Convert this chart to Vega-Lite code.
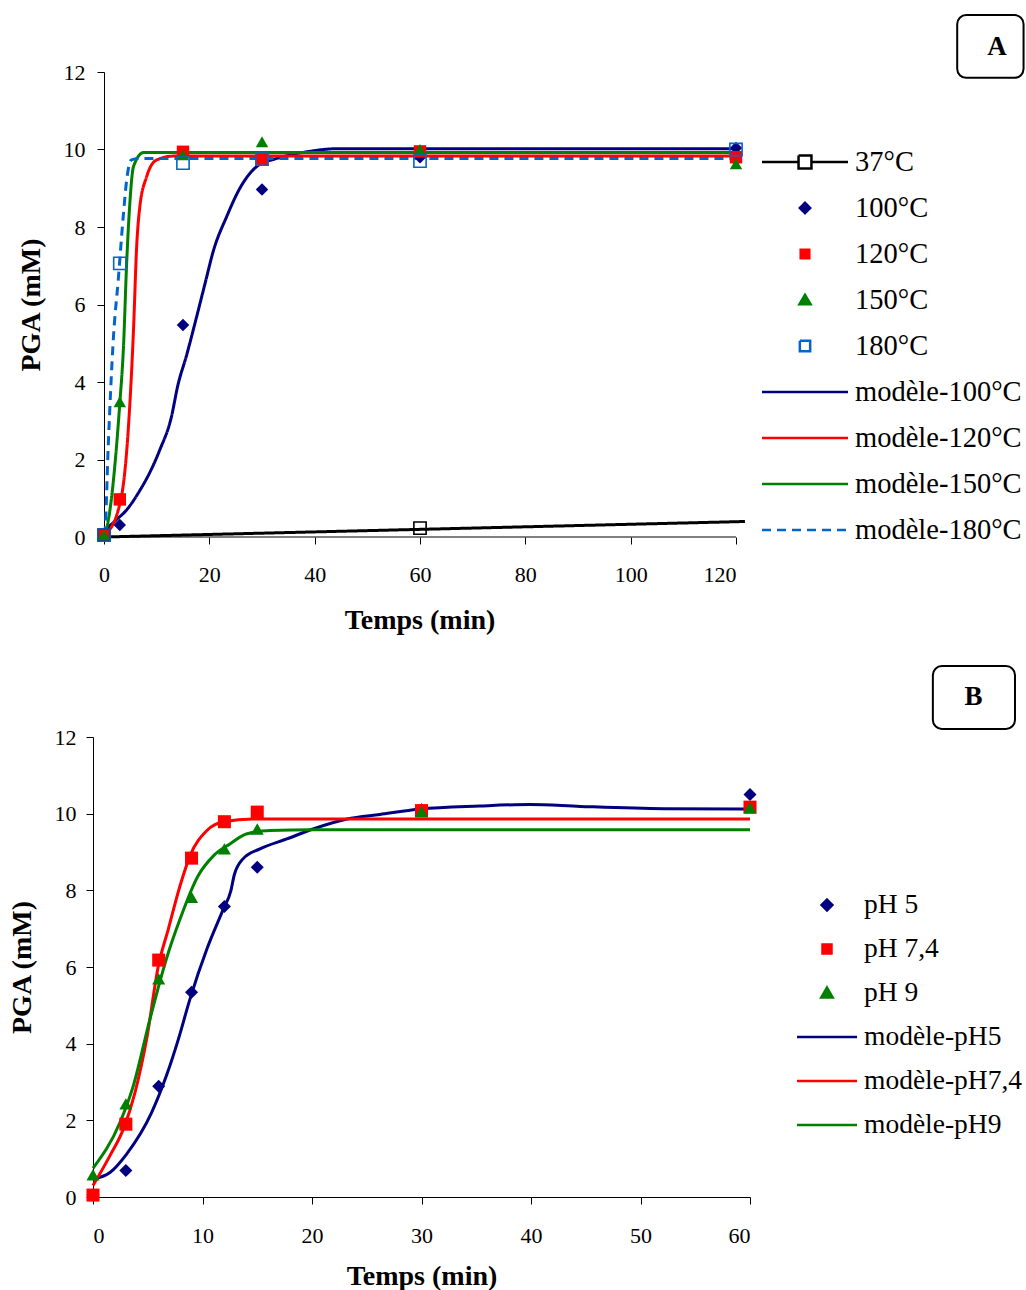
{
  "$schema": "https://vega.github.io/schema/vega-lite/v6.json",
  "background": "white",
  "padding": {"left": 8, "top": 14, "right": 0, "bottom": 0},
  "spacing": 31,
  "config": {
    "view": {"stroke": null},
    "axis": {
      "domainColor": "#000000", "tickColor": "#000000", "labelColor": "#000000", "titleColor": "#000000",
      "labelFont": "Liberation Serif", "labelFontSize": 22,
      "titleFont": "Liberation Serif", "titleFontSize": 28, "titleFontWeight": "bold",
      "grid": false, "tickSize": 7, "domainWidth": 1, "tickWidth": 1
    },
    "legend": {"labelFont": "Liberation Serif", "labelColor": "#000000", "labelLimit": 400}
  },
  "resolve": {
    "scale": {"color": "independent", "shape": "independent", "strokeDash": "independent"},
    "legend": {"color": "independent"}
  },
  "datasets": {
    "tempPoints": [
      {"t": 0, "pga": 0.05, "series": "37°C"},
      {"t": 60, "pga": 0.23, "series": "37°C"},
      {"t": 0, "pga": 0.05, "series": "100°C"},
      {"t": 3, "pga": 0.31, "series": "100°C"},
      {"t": 15, "pga": 5.47, "series": "100°C"},
      {"t": 30, "pga": 8.97, "series": "100°C"},
      {"t": 60, "pga": 9.8, "series": "100°C"},
      {"t": 120, "pga": 10.04, "series": "100°C"},
      {"t": 0, "pga": 0.05, "series": "120°C"},
      {"t": 3, "pga": 0.97, "series": "120°C"},
      {"t": 15, "pga": 9.94, "series": "120°C"},
      {"t": 30, "pga": 9.75, "series": "120°C"},
      {"t": 60, "pga": 9.95, "series": "120°C"},
      {"t": 120, "pga": 9.8, "series": "120°C"},
      {"t": 0, "pga": 0.05, "series": "150°C"},
      {"t": 3, "pga": 3.49, "series": "150°C"},
      {"t": 15, "pga": 9.86, "series": "150°C"},
      {"t": 30, "pga": 10.2, "series": "150°C"},
      {"t": 60, "pga": 10.0, "series": "150°C"},
      {"t": 120, "pga": 9.63, "series": "150°C"},
      {"t": 0, "pga": 0.05, "series": "180°C"},
      {"t": 3, "pga": 7.06, "series": "180°C"},
      {"t": 15, "pga": 9.65, "series": "180°C"},
      {"t": 30, "pga": 9.75, "series": "180°C"},
      {"t": 60, "pga": 9.7, "series": "180°C"},
      {"t": 120, "pga": 10.0, "series": "180°C"}
    ],
    "tempModels": [
      {"t": 0, "pga": 0.0, "series": "37°C"},
      {"t": 121.7, "pga": 0.4, "series": "37°C"},
      {"t": 0, "pga": 0.05, "series": "modèle-100°C"},
      {"t": 0.5, "pga": 0.18, "series": "modèle-100°C"},
      {"t": 2, "pga": 0.4, "series": "modèle-100°C"},
      {"t": 4.3, "pga": 0.7, "series": "modèle-100°C"},
      {"t": 6.8, "pga": 1.2, "series": "modèle-100°C"},
      {"t": 9, "pga": 1.75, "series": "modèle-100°C"},
      {"t": 10.6, "pga": 2.25, "series": "modèle-100°C"},
      {"t": 12.8, "pga": 3.1, "series": "modèle-100°C"},
      {"t": 14.0, "pga": 3.9, "series": "modèle-100°C"},
      {"t": 15.7, "pga": 4.7, "series": "modèle-100°C"},
      {"t": 17.6, "pga": 5.69, "series": "modèle-100°C"},
      {"t": 19.2, "pga": 6.55, "series": "modèle-100°C"},
      {"t": 20.8, "pga": 7.4, "series": "modèle-100°C"},
      {"t": 23.3, "pga": 8.27, "series": "modèle-100°C"},
      {"t": 25.8, "pga": 9.0, "series": "modèle-100°C"},
      {"t": 29, "pga": 9.56, "series": "modèle-100°C"},
      {"t": 32.8, "pga": 9.77, "series": "modèle-100°C"},
      {"t": 38.5, "pga": 9.94, "series": "modèle-100°C"},
      {"t": 44.2, "pga": 10.02, "series": "modèle-100°C"},
      {"t": 60, "pga": 10.02, "series": "modèle-100°C"},
      {"t": 120, "pga": 10.02, "series": "modèle-100°C"},
      {"t": 0, "pga": 0.05, "series": "modèle-120°C"},
      {"t": 0.5, "pga": 0.1, "series": "modèle-120°C"},
      {"t": 3.3, "pga": 1.04, "series": "modèle-120°C"},
      {"t": 4.6, "pga": 2.76, "series": "modèle-120°C"},
      {"t": 5.6, "pga": 5.34, "series": "modèle-120°C"},
      {"t": 6.2, "pga": 7.49, "series": "modèle-120°C"},
      {"t": 6.8, "pga": 8.52, "series": "modèle-120°C"},
      {"t": 8.1, "pga": 9.3, "series": "modèle-120°C"},
      {"t": 10, "pga": 9.73, "series": "modèle-120°C"},
      {"t": 13.2, "pga": 9.83, "series": "modèle-120°C"},
      {"t": 120, "pga": 9.83, "series": "modèle-120°C"},
      {"t": 0, "pga": 0.05, "series": "modèle-150°C"},
      {"t": 0.2, "pga": 0.1, "series": "modèle-150°C"},
      {"t": 3.0, "pga": 3.45, "series": "modèle-150°C"},
      {"t": 3.7, "pga": 4.91, "series": "modèle-150°C"},
      {"t": 4.3, "pga": 7.06, "series": "modèle-150°C"},
      {"t": 4.9, "pga": 8.6, "series": "modèle-150°C"},
      {"t": 5.6, "pga": 9.56, "series": "modèle-150°C"},
      {"t": 7.5, "pga": 9.92, "series": "modèle-150°C"},
      {"t": 120, "pga": 9.92, "series": "modèle-150°C"},
      {"t": 0, "pga": 0.05, "series": "modèle-180°C"},
      {"t": 0.2, "pga": 0.18, "series": "modèle-180°C"},
      {"t": 0.8, "pga": 2.33, "series": "modèle-180°C"},
      {"t": 1.8, "pga": 5.17, "series": "modèle-180°C"},
      {"t": 2.7, "pga": 6.63, "series": "modèle-180°C"},
      {"t": 3.7, "pga": 8.35, "series": "modèle-180°C"},
      {"t": 4.3, "pga": 9.21, "series": "modèle-180°C"},
      {"t": 5.2, "pga": 9.73, "series": "modèle-180°C"},
      {"t": 6.5, "pga": 9.77, "series": "modèle-180°C"},
      {"t": 120, "pga": 9.77, "series": "modèle-180°C"}
    ],
    "phPoints": [
      {"t": 0, "pga": 0.05, "serie": "pH 5"},
      {"t": 3, "pga": 0.69, "serie": "pH 5"},
      {"t": 6, "pga": 2.89, "serie": "pH 5"},
      {"t": 9, "pga": 5.34, "serie": "pH 5"},
      {"t": 12, "pga": 7.58, "serie": "pH 5"},
      {"t": 15, "pga": 8.6, "serie": "pH 5"},
      {"t": 30, "pga": 10.1, "serie": "pH 5"},
      {"t": 60, "pga": 10.5, "serie": "pH 5"},
      {"t": 0, "pga": 0.05, "serie": "pH 7,4"},
      {"t": 3, "pga": 1.9, "serie": "pH 7,4"},
      {"t": 6, "pga": 6.18, "serie": "pH 7,4"},
      {"t": 9, "pga": 8.84, "serie": "pH 7,4"},
      {"t": 12, "pga": 9.79, "serie": "pH 7,4"},
      {"t": 15, "pga": 10.04, "serie": "pH 7,4"},
      {"t": 30, "pga": 10.08, "serie": "pH 7,4"},
      {"t": 60, "pga": 10.17, "serie": "pH 7,4"},
      {"t": 0, "pga": 0.58, "serie": "pH 9"},
      {"t": 3, "pga": 2.43, "serie": "pH 9"},
      {"t": 6, "pga": 5.69, "serie": "pH 9"},
      {"t": 9, "pga": 7.82, "serie": "pH 9"},
      {"t": 12, "pga": 9.08, "serie": "pH 9"},
      {"t": 15, "pga": 9.6, "serie": "pH 9"},
      {"t": 30, "pga": 10.05, "serie": "pH 9"},
      {"t": 60, "pga": 10.15, "serie": "pH 9"}
    ],
    "phModels": [
      {"t": 0, "pga": 0.47, "serie": "modèle-pH5"},
      {"t": 1.55, "pga": 0.64, "serie": "modèle-pH5"},
      {"t": 3.07, "pga": 1.12, "serie": "modèle-pH5"},
      {"t": 5.35, "pga": 2.2, "serie": "modèle-pH5"},
      {"t": 6.7, "pga": 3.16, "serie": "modèle-pH5"},
      {"t": 7.8, "pga": 4.12, "serie": "modèle-pH5"},
      {"t": 8.86, "pga": 5.17, "serie": "modèle-pH5"},
      {"t": 10.4, "pga": 6.47, "serie": "modèle-pH5"},
      {"t": 11.9, "pga": 7.51, "serie": "modèle-pH5"},
      {"t": 12.6, "pga": 8.0, "serie": "modèle-pH5"},
      {"t": 12.9, "pga": 8.4, "serie": "modèle-pH5"},
      {"t": 13.7, "pga": 8.82, "serie": "modèle-pH5"},
      {"t": 15.25, "pga": 9.08, "serie": "modèle-pH5"},
      {"t": 17.7, "pga": 9.34, "serie": "modèle-pH5"},
      {"t": 20.1, "pga": 9.6, "serie": "modèle-pH5"},
      {"t": 23.2, "pga": 9.86, "serie": "modèle-pH5"},
      {"t": 26.2, "pga": 9.98, "serie": "modèle-pH5"},
      {"t": 29.9, "pga": 10.12, "serie": "modèle-pH5"},
      {"t": 35.3, "pga": 10.2, "serie": "modèle-pH5"},
      {"t": 39.9, "pga": 10.24, "serie": "modèle-pH5"},
      {"t": 44.5, "pga": 10.19, "serie": "modèle-pH5"},
      {"t": 52.1, "pga": 10.13, "serie": "modèle-pH5"},
      {"t": 60, "pga": 10.12, "serie": "modèle-pH5"},
      {"t": 0, "pga": 0.3, "serie": "modèle-pH7,4"},
      {"t": 1.55, "pga": 1.08, "serie": "modèle-pH7,4"},
      {"t": 2.77, "pga": 1.77, "serie": "modèle-pH7,4"},
      {"t": 3.84, "pga": 2.73, "serie": "modèle-pH7,4"},
      {"t": 4.9, "pga": 4.12, "serie": "modèle-pH7,4"},
      {"t": 5.97, "pga": 6.03, "serie": "modèle-pH7,4"},
      {"t": 6.88, "pga": 6.99, "serie": "modèle-pH7,4"},
      {"t": 7.95, "pga": 8.12, "serie": "modèle-pH7,4"},
      {"t": 8.86, "pga": 8.9, "serie": "modèle-pH7,4"},
      {"t": 10.4, "pga": 9.56, "serie": "modèle-pH7,4"},
      {"t": 11.9, "pga": 9.79, "serie": "modèle-pH7,4"},
      {"t": 14.6, "pga": 9.86, "serie": "modèle-pH7,4"},
      {"t": 60, "pga": 9.86, "serie": "modèle-pH7,4"},
      {"t": 0, "pga": 0.75, "serie": "modèle-pH9"},
      {"t": 2.47, "pga": 1.95, "serie": "modèle-pH9"},
      {"t": 3.68, "pga": 2.9, "serie": "modèle-pH9"},
      {"t": 5.2, "pga": 4.64, "serie": "modèle-pH9"},
      {"t": 6.7, "pga": 6.21, "serie": "modèle-pH9"},
      {"t": 7.95, "pga": 7.25, "serie": "modèle-pH9"},
      {"t": 9.6, "pga": 8.38, "serie": "modèle-pH9"},
      {"t": 11, "pga": 8.9, "serie": "modèle-pH9"},
      {"t": 12.5, "pga": 9.21, "serie": "modèle-pH9"},
      {"t": 14, "pga": 9.47, "serie": "modèle-pH9"},
      {"t": 16.2, "pga": 9.56, "serie": "modèle-pH9"},
      {"t": 20, "pga": 9.58, "serie": "modèle-pH9"},
      {"t": 60, "pga": 9.58, "serie": "modèle-pH9"}
    ]
  },
  "vconcat": [
    {
      "width": 643,
      "height": 465,
      "layer": [
        {
          "data": {"values": [{}]},
          "mark": {"type": "rule", "color": "#000000", "strokeWidth": 1},
          "encoding": {
            "x": {"datum": 0}, "x2": {"datum": 120}, "y": {"datum": 0}
          }
        },
        {
          "data": {"name": "tempModels"},
          "mark": {"type": "line", "strokeWidth": 3, "interpolate": "monotone", "clip": false},
          "encoding": {
            "x": {"field": "t", "type": "quantitative", "scale": {"domain": [-2.0886, 120], "nice": false, "zero": false},
                  "axis": {"values": [0, 20, 40, 60, 80, 100, 120], "domain": false, "labelPadding": 20, "titlePadding": 21, "title": "Temps (min)", "titleX": 326.5}},
            "y": {"field": "pga", "type": "quantitative", "scale": {"domain": [0, 12], "nice": false},
                  "axis": {"values": [0, 2, 4, 6, 8, 10, 12], "offset": -11, "labelPadding": 12, "titlePadding": 17.5, "title": "PGA (mM)"}},
            "color": {"field": "series", "type": "nominal",
              "scale": {"domain": ["37°C", "100°C", "120°C", "150°C", "180°C", "modèle-100°C", "modèle-120°C", "modèle-150°C", "modèle-180°C"],
                        "range": ["#000000", "#000080", "#ff0000", "#008000", "#0066cc", "#000080", "#ff0000", "#008000", "#0066cc"]},
              "legend": {
                "orient": "none", "legendX": 667.5, "legendY": 76, "title": null, "padding": 0,
                "labelFontSize": 28.5,
                "symbolSize": 7396, "symbolStrokeWidth": 2.5, "clipHeight": 28, "rowPadding": 17, "labelOffset": 5.5,
                "symbolType": "stroke",
                "encode": {
                  "symbols": {"update": {
                    "shape": {"signal": "datum.value=='37°C' ? 'M-1,0H-0.15M0.15,0H1M-0.15,-0.15H0.15V0.15H-0.15V-0.15V0.15H0.15V-0.15H-0.15' : datum.value=='100°C' ? 'M0,-0.12L0.12,0L0,0.12L-0.12,0Z' : datum.value=='150°C' ? 'M0,-0.12L0.13,0.1L-0.13,0.1Z' : datum.value=='120°C' ? 'M-0.1,-0.1H0.1V0.1H-0.1Z' : datum.value=='180°C' ? 'M-0.12,-0.12H0.12V0.12H-0.12V-0.12V0.12H0.12V-0.12H-0.12' : 'M-1,0H1'"},
                    "stroke": {"signal": "indexof(datum.value,'100')>=0 ? '#000080' : indexof(datum.value,'120')>=0 ? '#ff0000' : indexof(datum.value,'150')>=0 ? '#008000' : indexof(datum.value,'180')>=0 ? '#0066cc' : '#000000'"},
                    "strokeDash": {"signal": "datum.value=='modèle-180°C' ? [9,6] : [1,0]"},
                    "opacity": {"value": 1}
                  }}
                }
              }},
            "strokeDash": {"field": "series", "type": "nominal",
              "scale": {"domain": ["37°C", "modèle-100°C", "modèle-120°C", "modèle-150°C", "modèle-180°C"],
                        "range": [[1, 0], [1, 0], [1, 0], [1, 0], [9, 6]]},
              "legend": null}
          }
        },
        {
          "data": {"name": "tempPoints"},
          "transform": [{"filter": {"field": "series", "oneOf": ["100°C", "120°C", "150°C"]}}],
          "mark": {"type": "point", "filled": true, "opacity": 1, "size": 155, "clip": false},
          "encoding": {
            "x": {"field": "t", "type": "quantitative"},
            "y": {"field": "pga", "type": "quantitative"},
            "color": {"field": "series", "type": "nominal"},
            "shape": {"field": "series", "type": "nominal",
              "scale": {"domain": ["100°C", "120°C", "150°C"], "range": ["diamond", "square", "triangle-up"]},
              "legend": null}
          }
        },
        {
          "data": {"name": "tempPoints"},
          "transform": [{"filter": {"field": "series", "oneOf": ["37°C", "180°C"]}}],
          "mark": {"type": "point", "shape": "square", "filled": false, "opacity": 1, "size": 150, "strokeWidth": 1.6, "clip": false},
          "encoding": {
            "x": {"field": "t", "type": "quantitative"},
            "y": {"field": "pga", "type": "quantitative"},
            "color": {"field": "series", "type": "nominal"}
          }
        },
        {
          "data": {"values": [{}]},
          "mark": {"type": "rect", "fill": "white", "stroke": "#000000", "strokeWidth": 2, "cornerRadius": 9, "clip": false},
          "encoding": {
            "x": {"datum": 162}, "x2": {"datum": 174.6},
            "y": {"datum": 13.47}, "y2": {"datum": 11.85}
          }
        },
        {
          "data": {"values": [{}]},
          "mark": {"type": "text", "text": "A", "font": "Liberation Serif", "fontSize": 27, "fontWeight": "bold", "align": "center", "baseline": "middle", "color": "#000000", "clip": false},
          "encoding": {
            "x": {"datum": 169.55}, "y": {"datum": 12.65}
          }
        }
      ]
    },
    {
      "width": 657,
      "height": 460,
      "layer": [
        {
          "data": {"name": "phModels"},
          "mark": {"type": "line", "strokeWidth": 3, "interpolate": "monotone", "clip": false},
          "encoding": {
            "x": {"field": "t", "type": "quantitative", "scale": {"domain": [0, 60], "nice": false},
                  "axis": {"values": [0, 10, 20, 30, 40, 50, 60], "labelPadding": 21, "titlePadding": 16, "title": "Temps (min)"}},
            "y": {"field": "pga", "type": "quantitative", "scale": {"domain": [0, 12], "nice": false},
                  "axis": {"values": [0, 2, 4, 6, 8, 10, 12], "labelPadding": 10, "titlePadding": 17.5, "title": "PGA (mM)"}},
            "color": {"field": "serie", "type": "nominal",
              "scale": {"domain": ["pH 5", "pH 7,4", "pH 9", "modèle-pH5", "modèle-pH7,4", "modèle-pH9"],
                        "range": ["#000080", "#ff0000", "#008000", "#000080", "#ff0000", "#008000"]},
              "legend": {
                "orient": "none", "legendX": 702.5, "legendY": 154, "title": null, "padding": 0,
                "labelFontSize": 27.5,
                "symbolSize": 3600, "symbolStrokeWidth": 2.5, "clipHeight": 28, "rowPadding": 16, "labelOffset": 5.5,
                "symbolType": "stroke",
                "encode": {
                  "symbols": {"update": {
                    "shape": {"signal": "datum.value=='pH 5' ? 'M0,-0.18L0.18,0L0,0.18L-0.18,0Z' : datum.value=='pH 7,4' ? 'M-0.15,-0.15H0.15V0.15H-0.15Z' : datum.value=='pH 9' ? 'M0,-0.18L0.19,0.15L-0.19,0.15Z' : 'M-1,0H1'"},
                    "stroke": {"signal": "indexof(datum.value,'5')>=0 ? '#000080' : indexof(datum.value,'7')>=0 ? '#ff0000' : '#008000'"},
                    "opacity": {"value": 1}
                  }}
                }
              }}
          }
        },
        {
          "data": {"name": "phPoints"},
          "mark": {"type": "point", "filled": true, "opacity": 1, "size": 170, "clip": false},
          "encoding": {
            "x": {"field": "t", "type": "quantitative"},
            "y": {"field": "pga", "type": "quantitative"},
            "color": {"field": "serie", "type": "nominal"},
            "shape": {"field": "serie", "type": "nominal",
              "scale": {"domain": ["pH 5", "pH 7,4", "pH 9"], "range": ["diamond", "square", "triangle-up"]},
              "legend": null}
          }
        },
        {
          "data": {"values": [{}]},
          "mark": {"type": "rect", "fill": "white", "stroke": "#000000", "strokeWidth": 2, "cornerRadius": 9, "clip": false},
          "encoding": {
            "x": {"datum": 76.7}, "x2": {"datum": 84.2},
            "y": {"datum": 13.85}, "y2": {"datum": 12.21}
          }
        },
        {
          "data": {"values": [{}]},
          "mark": {"type": "text", "text": "B", "font": "Liberation Serif", "fontSize": 27, "fontWeight": "bold", "align": "center", "baseline": "middle", "color": "#000000", "clip": false},
          "encoding": {
            "x": {"datum": 80.4}, "y": {"datum": 13.04}
          }
        }
      ]
    }
  ]
}
